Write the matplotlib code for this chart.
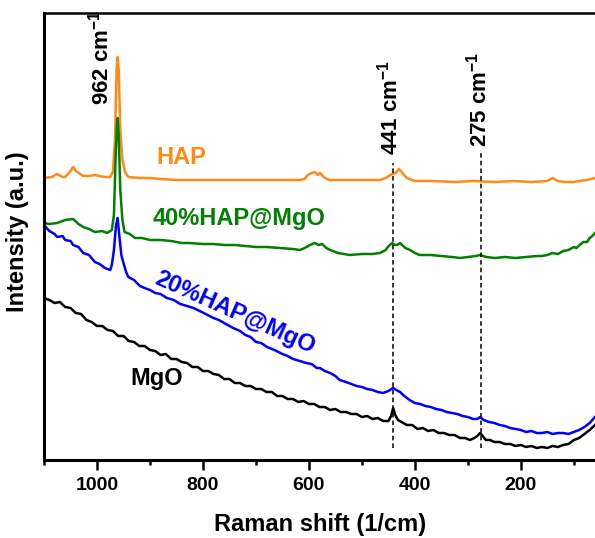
import matplotlib
matplotlib.use('Agg')
import matplotlib.pyplot as plt
from matplotlib.ticker import MultipleLocator

plt.rcParams['font.family'] = ['Liberation Sans', 'DejaVu Sans']
plt.rcParams['mathtext.fontset'] = 'custom'
plt.rcParams['mathtext.rm'] = 'Liberation Sans:bold'

# Raman spectra (intensity in arbitrary units)
hap_x = [1100, 1085, 1075, 1065, 1060, 1050, 1045, 1040, 1026, 1015, 1004, 995, 985, 975, 970, 966,
         963, 961, 959, 956, 952, 947, 941, 920, 900, 880, 850, 800, 750, 700, 650, 617, 608, 602,
         595, 589, 583, 579, 572, 566, 560, 530, 500, 466, 455, 443, 436, 430, 422, 415, 400, 370,
         325, 290, 250, 215, 180, 150, 140, 130, 117, 100, 90, 75, 60]
hap_y = [282, 283, 286, 283, 283, 289, 293, 289, 284, 284, 285, 284, 283, 283, 288, 320,
         390, 403, 390, 330, 300, 288, 283, 282, 282, 281, 280, 280, 280, 280, 280, 280, 281, 285,
         287, 288, 285, 287, 283, 281, 280, 280, 280, 280, 282, 286, 287, 291, 286, 282, 279, 279,
         278, 279, 278, 279, 278, 279, 282, 279, 278, 278, 279, 280, 282]

hap40_x = [1100, 1090, 1075, 1060, 1045, 1035, 1026, 1015, 1004, 990, 981, 972, 968, 965, 962, 961,
           959, 956, 952, 948, 938, 928, 915, 900, 880, 860, 840, 825, 800, 780, 760, 740, 720, 700,
           680, 655, 630, 617, 608, 598, 589, 582, 575, 567, 560, 545, 523, 500, 480, 466, 455, 451,
           443, 438, 434, 428, 418, 409, 400, 391, 370, 350, 330, 315, 300, 285, 277, 265, 249, 230,
           210, 190, 170, 160, 150, 140, 130, 120, 110, 100, 95, 89, 82, 75, 70, 65, 60]
hap40_y = [237, 236, 237, 240, 241, 236, 233, 231, 228, 229, 227, 230, 245, 300, 340, 342,
           325, 270, 240, 228, 226, 222, 222, 220, 220, 219, 217, 217, 216, 216, 215, 215, 214, 213,
           213, 212, 211, 210, 212, 215, 217, 215, 216, 212, 210, 207, 205, 206, 206, 207, 210, 213,
           217, 215, 215, 217, 212, 210, 207, 205, 205, 204, 203, 202, 203, 204, 205, 203, 202, 203,
           202, 203, 204, 204, 205, 207, 206, 209, 210, 213, 212, 215, 218, 218, 222, 224, 227]

hap20_x = [1100, 1090, 1080, 1075, 1065, 1060, 1050, 1045, 1035, 1026, 1015, 1004, 995, 985, 975,
           972, 968, 964, 961, 958, 954, 950, 945, 941, 930, 919, 910, 900, 890, 880, 868, 855, 843,
           830, 818, 806, 795, 780, 770, 760, 743, 730, 720, 710, 700, 690, 679, 665, 650, 640, 630,
           617, 605, 595, 585, 579, 570, 560, 550, 542, 530, 520, 510, 500, 490, 480, 470, 460, 450,
           441, 435, 428, 420, 410, 400, 390, 380, 370, 360, 350, 340, 330, 320, 310, 300, 290, 282,
           277, 270, 260, 250, 240, 230, 220, 210, 200, 190, 180, 170, 160, 150, 140, 130, 120, 110,
           100, 90, 80, 70, 60]
hap20_y = [235, 229, 226, 223, 224, 220, 219, 215, 213, 207, 205, 198, 196, 192, 190,
           195, 210, 235, 242, 225, 205, 197, 188, 183, 180, 174, 172, 170, 167, 166, 162, 160, 156,
           154, 152, 149, 146, 142, 140, 137, 132, 129, 125, 123, 118, 117, 113, 110, 106, 104, 101,
           99, 97, 96, 92, 92, 89, 87, 84, 80, 78, 76, 74, 73, 71, 70, 68, 67, 69,
           72, 70, 68, 64, 60, 57, 56, 54, 53, 51, 50, 48, 47, 46, 44, 43, 41, 41,
           43, 40, 38, 37, 35, 34, 32, 31, 30, 28, 29, 27, 27, 28, 26, 27, 27, 26,
           28, 30, 33, 37, 43]

mgo_x = [1100, 1090, 1080, 1070, 1060, 1050, 1040, 1030, 1020, 1010, 1000, 990, 980, 970, 960, 950,
         940, 930, 920, 910, 900, 890, 880, 870, 860, 850, 840, 830, 820, 810, 800, 790, 780, 770,
         760, 750, 740, 730, 720, 710, 700, 690, 680, 670, 660, 650, 640, 630, 620, 610, 600, 590,
         580, 570, 560, 550, 540, 530, 520, 510, 500, 490, 480, 470, 460, 450, 445, 441, 437, 432,
         425, 415, 405, 395, 385, 375, 365, 355, 345, 335, 325, 315, 305, 296, 288, 282, 277, 272,
         266, 258, 250, 240, 230, 220, 210, 200, 190, 180, 170, 160, 150, 140, 130, 120, 110, 100,
         90, 80, 70, 60]
mgo_y = [162, 160, 157, 158, 153, 152, 147, 146, 140, 138, 134, 134, 130, 129, 124, 124,
         119, 118, 114, 114, 110, 109, 105, 106, 101, 101, 98, 97, 93, 93, 89, 89, 86, 85,
         81, 81, 77, 77, 74, 74, 71, 71, 68, 68, 64, 64, 61, 61, 58, 59, 56, 56,
         53, 53, 50, 51, 48, 48, 46, 46, 43, 44, 41, 42, 39, 39, 44, 52, 45, 40,
         38, 35, 35, 31, 32, 29, 30, 27, 27, 25, 25, 22, 22, 20, 22, 24, 27, 24,
         20, 20, 18, 18, 16, 16, 14, 15, 13, 14, 12, 13, 12, 14, 13, 15, 16, 20,
         22, 26, 30, 35]

peaks = [441, 275]

fig = plt.figure(figsize=(5.95, 5.38), dpi=100)
ax = fig.add_axes([44 / 595, 78 / 538, 551 / 595, 447 / 538])

ax.plot(hap_x, hap_y, color='#ff8a14', lw=1.8)
ax.plot(hap40_x, hap40_y, color='#008000', lw=1.8)
ax.plot(hap20_x, hap20_y, color='#0000ff', lw=1.8)
ax.plot(mgo_x, mgo_y, color='black', lw=1.8)

# dashed markers for the MgO bands
for p, top in zip(peaks, [297, 310]):
    ax.plot([p, p], [12, top], color='black', lw=1.1, ls=(0, (3, 2)))

ax.text(994, 355, r'962 cm$^{-1}$', rotation=90, ha='center', va='bottom', fontsize=16, fontweight='bold')
ax.text(447, 305, r'441 cm$^{-1}$', rotation=90, ha='center', va='bottom', fontsize=16, fontweight='bold')
ax.text(279, 313, r'275 cm$^{-1}$', rotation=90, ha='center', va='bottom', fontsize=16, fontweight='bold')

ax.text(840, 302, 'HAP', color='#ff8a14', fontsize=17, fontweight='bold', ha='center', va='center')
ax.text(732, 242, '40%HAP@MgO', color='#008000', fontsize=17, fontweight='bold', ha='center', va='center')
ax.text(740, 147, '20%HAP@MgO', color='#0000ff', fontsize=17, fontweight='bold', ha='center', va='center',
        rotation=-24, rotation_mode='anchor')
ax.text(887, 82, 'MgO', color='black', fontsize=17, fontweight='bold', ha='center', va='center')

ax.set_xlim(1100, 60)
ax.set_ylim(0, 447)
ax.xaxis.set_major_locator(MultipleLocator(200))
ax.xaxis.set_minor_locator(MultipleLocator(100))
ax.set_yticks([])
ax.tick_params(axis='x', which='major', length=7, width=1.8, labelsize=14, pad=5)
ax.tick_params(axis='x', which='minor', length=3.5, width=1.8)
for lbl in ax.get_xticklabels():
    lbl.set_fontweight('bold')
for s in ['left', 'bottom']:
    ax.spines[s].set_linewidth(2.2)
ax.spines['top'].set_linewidth(1.8)
ax.spines['right'].set_visible(False)

fig.text(320 / 595, 1 - 525 / 538, 'Raman shift (1/cm)', ha='center', va='center', fontsize=17, fontweight='bold')
fig.text(18 / 595, 1 - 232 / 538, 'Intensity (a.u.)', ha='center', va='center', rotation=90,
         fontsize=17, fontweight='bold')

fig.savefig('out.png', dpi=100)
